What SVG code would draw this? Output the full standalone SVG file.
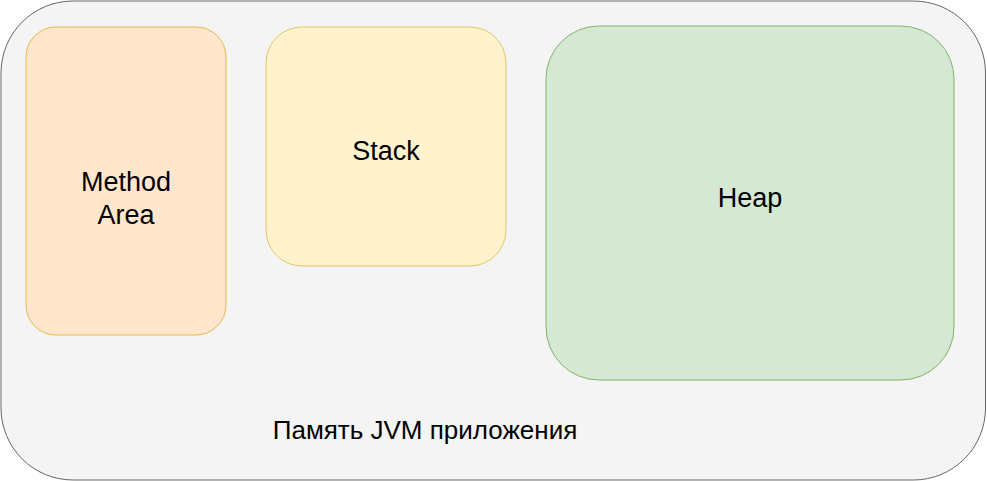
<svg xmlns="http://www.w3.org/2000/svg" width="987" height="481" viewBox="0 0 987 481">
<style>
.t{font-family:"Liberation Sans",Arial,sans-serif;font-size:26px;fill:#000;text-anchor:middle}
.n{font-size:27px}
</style>
<rect width="987" height="481" fill="#fff"/>
<g id="jvm">
<rect x="1" y="1" width="984.5" height="479" rx="72" ry="72" fill="#f4f4f4" stroke="#666" stroke-width="1"/>
<text class="t" x="425" y="439">Память JVM приложения</text>
</g>
<g id="method-area">
<rect x="26" y="27" width="200" height="308" rx="30" ry="30" fill="#ffe6cc" stroke="#e6b84a" stroke-width="1"/>
<text class="t n" x="126" y="191">Method</text>
<text class="t n" x="126" y="224">Area</text>
</g>
<g id="stack">
<rect x="266" y="27" width="240" height="239" rx="36" ry="36" fill="#fff2cc" stroke="#e6c466" stroke-width="1"/>
<text class="t n" x="386" y="160">Stack</text>
</g>
<g id="heap">
<rect x="546" y="26" width="408" height="354" rx="53" ry="53" fill="#d5e8d4" stroke="#82b366" stroke-width="1"/>
<text class="t n" x="750" y="207">Heap</text>
</g>
<g id="connectors"></g>
</svg>
